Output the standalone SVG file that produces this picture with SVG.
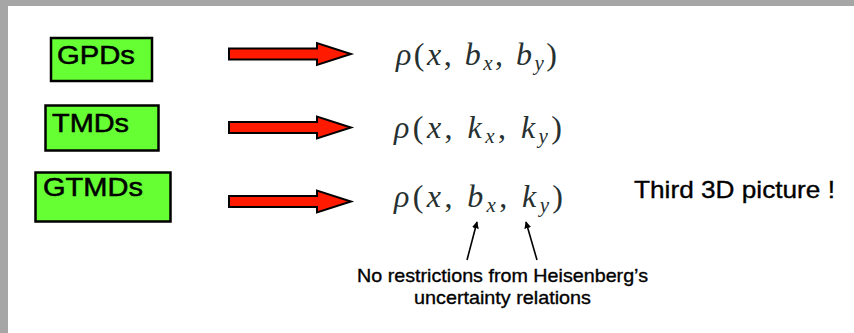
<svg xmlns="http://www.w3.org/2000/svg" width="854" height="333" viewBox="0 0 854 333">
<style>
.box{fill:#66ff33;stroke:#000;stroke-width:2.5}
.lbl{font-family:"Liberation Sans",Arial,sans-serif;font-size:25px;fill:#000;stroke:#000;stroke-width:0.5}
.red{fill:#ff1a00;stroke:#000;stroke-width:2;stroke-linejoin:miter}
.math{font-family:"Liberation Serif","Times New Roman",serif;font-size:32px;fill:#263030}
.it{font-style:italic}
.sub{font-size:21px;font-style:italic}
.note{font-family:"Liberation Sans",Arial,sans-serif;fill:#000;stroke:#000;stroke-width:0.35}
.thin{stroke:#000;stroke-width:1.6;fill:none}
</style>
<defs>
<marker id="ah" viewBox="0 0 10 10" refX="9" refY="5" markerWidth="7" markerHeight="7" markerUnits="userSpaceOnUse" orient="auto">
<path d="M0,0 L10,5 L0,10 z" fill="#000"/>
</marker>
</defs>
<rect x="0" y="0" width="854" height="333" fill="#a6a6a6"/>
<rect x="8" y="6" width="846" height="327" fill="#fff"/>

<g id="gpds">
<rect class="box" x="51" y="38" width="101" height="43"/>
<text class="lbl" x="57" y="64" textLength="78" lengthAdjust="spacingAndGlyphs">GPDs</text>
</g>
<g id="tmds">
<rect class="box" x="45.5" y="105.5" width="113" height="45"/>
<text class="lbl" x="52" y="132" textLength="77" lengthAdjust="spacingAndGlyphs">TMDs</text>
</g>
<g id="gtmds">
<rect class="box" x="35.5" y="172.5" width="135" height="49"/>
<text class="lbl" x="43" y="196" textLength="100" lengthAdjust="spacingAndGlyphs">GTMDs</text>
</g>

<g id="rho1">
<text class="math" x="396" y="65" textLength="161" lengthAdjust="spacing"><tspan class="it">ρ</tspan>(<tspan class="it">x</tspan>, <tspan class="it">b</tspan><tspan class="sub" dy="5">x</tspan><tspan dy="-5">, </tspan><tspan class="it">b</tspan><tspan class="sub" dy="5">y</tspan><tspan dy="-5">)</tspan></text>
</g>
<g id="rho2">
<text class="math" x="394" y="138" textLength="168" lengthAdjust="spacing"><tspan class="it">ρ</tspan>(<tspan class="it">x</tspan>, <tspan class="it">k</tspan><tspan class="sub" dy="5">x</tspan><tspan dy="-5">, </tspan><tspan class="it">k</tspan><tspan class="sub" dy="5">y</tspan><tspan dy="-5">)</tspan></text>
</g>
<g id="rho3">
<text class="math" x="394" y="207" textLength="169" lengthAdjust="spacing"><tspan class="it">ρ</tspan>(<tspan class="it">x</tspan>, <tspan class="it">b</tspan><tspan class="sub" dy="5">x</tspan><tspan dy="-5">, </tspan><tspan class="it">k</tspan><tspan class="sub" dy="5">y</tspan><tspan dy="-5">)</tspan></text>
</g>

<g id="third">
<text class="note" x="634" y="198" font-size="24" textLength="201" lengthAdjust="spacingAndGlyphs">Third 3D picture !</text>
</g>
<g id="note">
<text class="note" x="357" y="282" font-size="19" textLength="291" lengthAdjust="spacingAndGlyphs">No restrictions from Heisenberg’s</text>
<text class="note" x="414" y="304" font-size="19" textLength="177" lengthAdjust="spacingAndGlyphs">uncertainty relations</text>
</g>

<g id="connectors">
<polygon class="red" points="229,48.5 317,48.5 317,43 351,54 317,65 317,59.5 229,59.5"/>
<polygon class="red" points="229,122 317,122 317,116.5 351,127.5 317,138.5 317,133 229,133"/>
<polygon class="red" points="229,196 317,196 317,190.5 351,201.5 317,212.5 317,207 229,207"/>
<line class="thin" x1="467" y1="260" x2="477" y2="222" marker-end="url(#ah)"/>
<line class="thin" x1="537" y1="260" x2="526" y2="222" marker-end="url(#ah)"/>
</g>
</svg>
